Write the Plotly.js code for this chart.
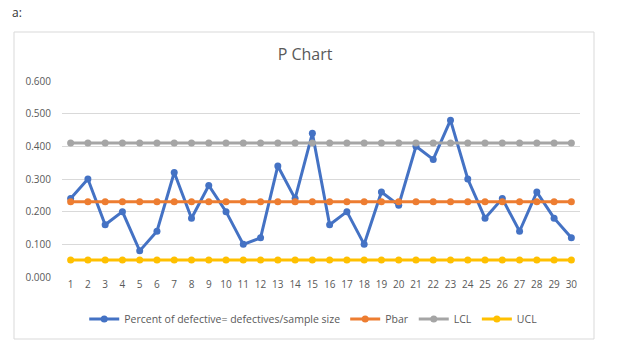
<!DOCTYPE html>
<html>
<head>
<meta charset="utf-8">
<script src="https://cdn.plot.ly/plotly-3.0.1.min.js"></script>
<style>html,body{margin:0;padding:0;background:#fff;}#chart{width:629px;height:357px;}</style>
</head>
<body>
<div id="chart"></div>
<script>
const samples = [1,2,3,4,5,6,7,8,9,10,11,12,13,14,15,16,17,18,19,20,21,22,23,24,25,26,27,28,29,30];
const percentDefective = [0.24,0.30,0.16,0.20,0.08,0.14,0.32,0.18,0.28,0.20,0.10,0.12,0.34,0.24,0.44,0.16,0.20,0.10,0.26,0.22,0.40,0.36,0.48,0.30,0.18,0.24,0.14,0.26,0.18,0.12];
const pbarValue = 0.23;
const lclValue = 0.41;
const uclValue = 0.052;
const pbar = samples.map(() => pbarValue);
const lcl = samples.map(() => lclValue);
const ucl = samples.map(() => uclValue);
const seriesNames = ["Percent of defective= defectives/sample size", "Pbar", "LCL", "UCL"];
const yTicks = [0, 0.1, 0.2, 0.3, 0.4, 0.5, 0.6];

const colors = ["#4472C4", "#ED7D31", "#A5A5A5", "#FFC000"];
const xs = samples.map(String);
const allSeries = [percentDefective, pbar, lcl, ucl];
const traces = allSeries.map((ys, i) => ({
  x: xs, y: ys, name: seriesNames[i], type: "scatter", mode: "lines+markers",
  line: {color: colors[i], width: 3},
  marker: {color: colors[i], size: 7},
  hoverinfo: "none"
}));
const font = {family: "Open Sans, sans-serif", color: "#595959"};
const layout = {
  width: 629, height: 357,
  margin: {l: 62, r: 49, t: 81, b: 80},
  paper_bgcolor: "#fff", plot_bgcolor: "#fff",
  showlegend: true,
  title: {text: "P Chart", x: 0.485, xanchor: "center", y: 1 - 54/357, yanchor: "middle",
          font: {family: "Open Sans, sans-serif", size: 16, color: "#595959"}},
  xaxis: {type: "category", range: [-0.5, 29.5], showgrid: false, zeroline: false, showline: false,
          ticks: "", tickfont: Object.assign({size: 10}, font), fixedrange: true},
  yaxis: {range: [0, 0.6], tickvals: yTicks, tickformat: ".3f", showgrid: true, gridcolor: "#D9D9D9",
          gridwidth: 1, zeroline: false, showline: false, ticks: "", ticklabelstandoff: 10,
          tickfont: Object.assign({size: 10}, font), fixedrange: true},
  legend: {orientation: "h", x: 0.485, xanchor: "center", y: (277-319)/196, yanchor: "middle",
           font: Object.assign({size: 10.5}, font), itemwidth: 30, traceorder: "normal"},
  shapes: [{type: "rect", xref: "paper", yref: "paper", x0: (14-62)/518, x1: (594-62)/518,
            y0: (277-339)/196, y1: (277-32)/196, line: {color: "#D9D9D9", width: 1}, layer: "below"}],
  annotations: [{text: "a:", xref: "paper", yref: "paper", x: (10-62)/518, y: (277-12)/196,
                 xanchor: "left", yanchor: "middle", showarrow: false,
                 font: {family: "Open Sans, sans-serif", size: 12, color: "#333"}}]
};
Plotly.newPlot("chart", traces, layout, {displayModeBar: false, staticPlot: true});
</script>
</body>
</html>
